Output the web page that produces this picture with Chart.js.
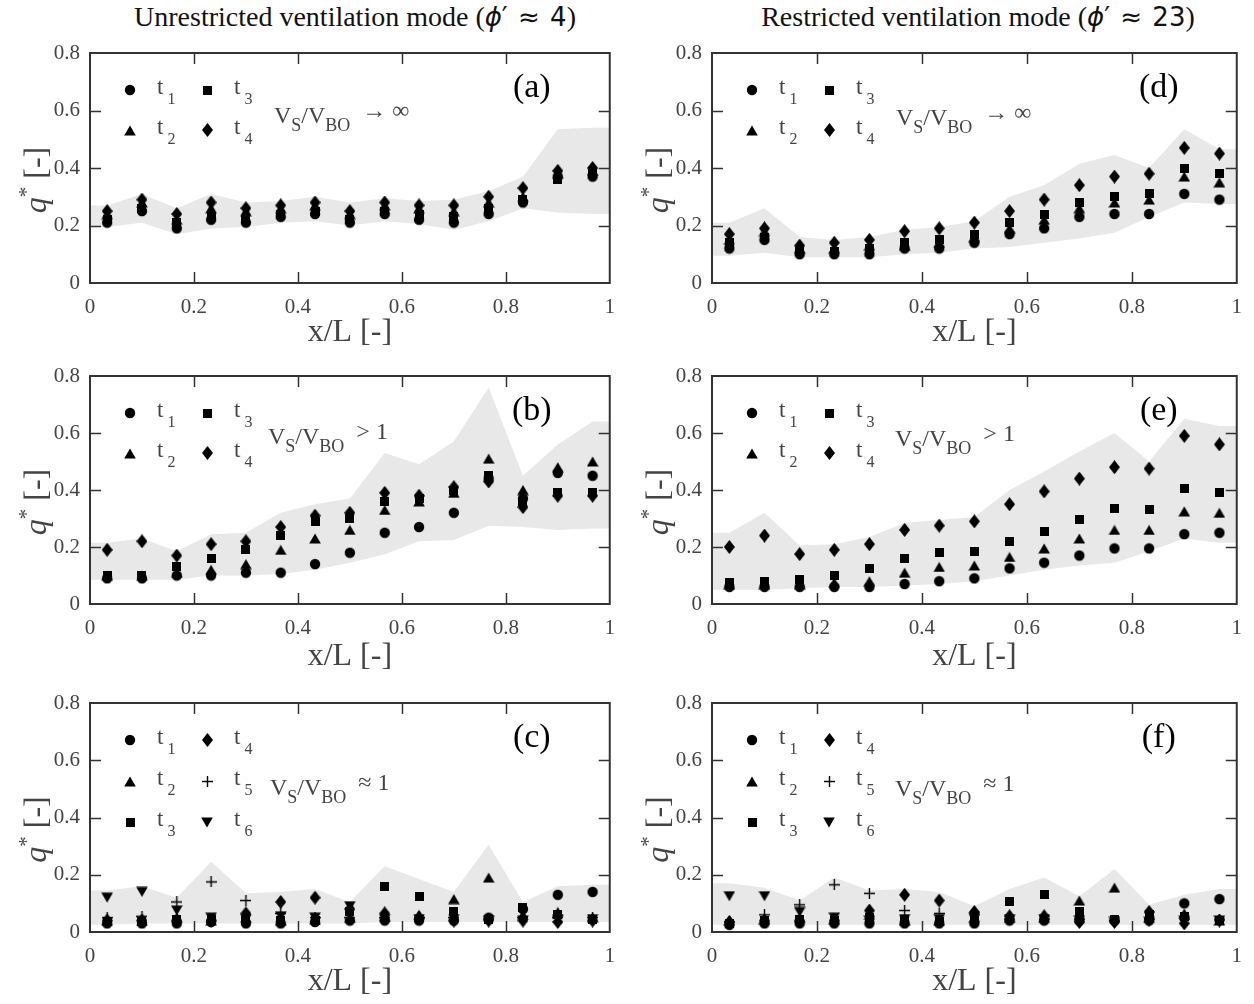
<!DOCTYPE html>
<html>
<head>
<meta charset="utf-8">
<script src="https://cdn.jsdelivr.net/npm/chart.js@4.4.0/dist/chart.umd.min.js"></script>
<style>
  body { margin: 0; background: #fff; width: 1254px; height: 1004px; position: relative; overflow: hidden; font-family: 'Liberation Serif', serif; }
  .hdr { position: absolute; top: 1px; font-size: 28px; line-height: 32px; color: #111; text-align: center; white-space: nowrap; }
  .hdr .s { font-family: 'DejaVu Sans', sans-serif; font-size: 26px; word-spacing: 2px; }
  canvas { position: absolute; display: block; }
</style>
</head>
<body>
<div class="hdr" style="left:0;width:710px">Unrestricted ventilation mode (<span class="s"><i>ϕ</i>′ ≈ 4</span>)</div>
<div class="hdr" style="left:702px;width:552px">Restricted ventilation mode (<span class="s"><i>ϕ</i>′ ≈ 23</span>)</div>

<canvas id="pa" width="627" height="320" style="left:0;top:30px"></canvas>
<canvas id="pd" width="627" height="320" style="left:627px;top:30px"></canvas>
<canvas id="pb" width="627" height="325" style="left:0;top:350px"></canvas>
<canvas id="pe" width="627" height="325" style="left:627px;top:350px"></canvas>
<canvas id="pc" width="627" height="329" style="left:0;top:675px"></canvas>
<canvas id="pf" width="627" height="329" style="left:627px;top:675px"></canvas>

<script>
// measurement positions x/L
const xPos = [0.033, 0.1, 0.167, 0.233, 0.3, 0.367, 0.433, 0.5, 0.567, 0.633, 0.7, 0.767, 0.833, 0.9, 0.967];
// band corners (edges + measurement positions)
const bandX = [0, 0.033, 0.1, 0.167, 0.233, 0.3, 0.367, 0.433, 0.5, 0.567, 0.633, 0.7, 0.767, 0.833, 0.9, 0.967, 1];

// (a) unrestricted, Vs/Vbo -> inf
const aT1 = [0.21, 0.25, 0.19, 0.22, 0.21, 0.23, 0.24, 0.21, 0.24, 0.22, 0.21, 0.24, 0.28, 0.37, 0.37];
const aT2 = [0.24, 0.28, 0.22, 0.26, 0.25, 0.26, 0.27, 0.24, 0.27, 0.26, 0.25, 0.28, 0.30, 0.38, 0.39];
const aT3 = [0.22, 0.26, 0.21, 0.23, 0.22, 0.24, 0.25, 0.22, 0.25, 0.24, 0.23, 0.26, 0.29, 0.36, 0.38];
const aT4 = [0.25, 0.29, 0.24, 0.28, 0.26, 0.27, 0.28, 0.25, 0.28, 0.27, 0.27, 0.30, 0.33, 0.39, 0.40];
const aHi = [0.27, 0.27, 0.31, 0.26, 0.31, 0.28, 0.285, 0.30, 0.28, 0.295, 0.285, 0.29, 0.32, 0.37, 0.535, 0.54, 0.54];
const aLo = [0.195, 0.195, 0.21, 0.17, 0.19, 0.195, 0.21, 0.215, 0.20, 0.215, 0.205, 0.185, 0.215, 0.26, 0.245, 0.24, 0.24];

// (b) unrestricted, Vs/Vbo > 1
const bT1 = [0.09, 0.09, 0.10, 0.10, 0.11, 0.11, 0.14, 0.18, 0.25, 0.27, 0.32, 0.44, 0.37, 0.46, 0.45];
const bT2 = [0.10, 0.10, 0.11, 0.12, 0.14, 0.19, 0.23, 0.26, 0.33, 0.36, 0.39, 0.51, 0.40, 0.48, 0.50];
const bT3 = [0.10, 0.10, 0.13, 0.16, 0.19, 0.24, 0.29, 0.30, 0.36, 0.37, 0.40, 0.45, 0.36, 0.39, 0.39];
const bT4 = [0.19, 0.22, 0.17, 0.21, 0.22, 0.27, 0.31, 0.32, 0.39, 0.38, 0.41, 0.43, 0.34, 0.38, 0.38];
const bHi = [0.215, 0.215, 0.23, 0.185, 0.245, 0.25, 0.32, 0.35, 0.37, 0.53, 0.49, 0.57, 0.76, 0.45, 0.56, 0.64, 0.64];
const bLo = [0.085, 0.085, 0.085, 0.085, 0.10, 0.10, 0.105, 0.12, 0.145, 0.175, 0.22, 0.225, 0.275, 0.27, 0.26, 0.265, 0.265];

// (c) unrestricted, Vs/Vbo ~ 1
const cT1 = [0.03, 0.03, 0.03, 0.035, 0.03, 0.03, 0.035, 0.04, 0.04, 0.04, 0.04, 0.05, 0.08, 0.13, 0.14];
const cT2 = [0.04, 0.04, 0.05, 0.04, 0.05, 0.04, 0.045, 0.05, 0.055, 0.06, 0.115, 0.19, 0.06, 0.07, 0.05];
const cT3 = [0.035, 0.035, 0.045, 0.045, 0.04, 0.04, 0.04, 0.07, 0.16, 0.125, 0.07, 0.045, 0.085, 0.06, 0.045];
const cT4 = [0.04, 0.04, 0.04, 0.04, 0.065, 0.105, 0.12, 0.08, 0.065, 0.05, 0.04, 0.04, 0.04, 0.035, 0.04];
const cT5 = [0.05, 0.055, 0.105, 0.175, 0.11, 0.065, 0.05, 0.05, 0.05, 0.05, 0.05, 0.045, 0.05, 0.05, 0.05];
const cT6 = [0.12, 0.14, 0.075, 0.05, 0.045, 0.055, 0.05, 0.09, 0.045, 0.045, 0.045, 0.04, 0.04, 0.045, 0.045];
const cHi = [0.145, 0.145, 0.16, 0.12, 0.245, 0.135, 0.14, 0.15, 0.105, 0.23, 0.185, 0.14, 0.305, 0.105, 0.16, 0.165, 0.165];
const cLo = [0.025, 0.025, 0.03, 0.03, 0.03, 0.03, 0.03, 0.03, 0.03, 0.035, 0.035, 0.035, 0.035, 0.035, 0.035, 0.035, 0.035];

// (d) restricted, Vs/Vbo -> inf
const dT1 = [0.12, 0.15, 0.10, 0.10, 0.10, 0.12, 0.12, 0.14, 0.17, 0.19, 0.23, 0.24, 0.24, 0.31, 0.29];
const dT2 = [0.15, 0.18, 0.12, 0.12, 0.13, 0.13, 0.14, 0.16, 0.19, 0.22, 0.26, 0.28, 0.29, 0.37, 0.35];
const dT3 = [0.14, 0.16, 0.11, 0.11, 0.12, 0.14, 0.15, 0.17, 0.21, 0.24, 0.28, 0.30, 0.31, 0.40, 0.38];
const dT4 = [0.17, 0.19, 0.13, 0.14, 0.15, 0.18, 0.19, 0.21, 0.25, 0.29, 0.34, 0.37, 0.38, 0.47, 0.45];
const dHi = [0.21, 0.21, 0.26, 0.16, 0.15, 0.16, 0.185, 0.195, 0.215, 0.30, 0.34, 0.415, 0.445, 0.40, 0.535, 0.465, 0.465];
const dLo = [0.095, 0.095, 0.105, 0.09, 0.09, 0.09, 0.10, 0.105, 0.12, 0.125, 0.14, 0.155, 0.175, 0.23, 0.28, 0.275, 0.275];

// (e) restricted, Vs/Vbo > 1
const eT1 = [0.06, 0.06, 0.06, 0.06, 0.06, 0.07, 0.08, 0.09, 0.125, 0.145, 0.17, 0.195, 0.195, 0.245, 0.25];
const eT2 = [0.07, 0.07, 0.07, 0.075, 0.08, 0.11, 0.13, 0.135, 0.165, 0.195, 0.23, 0.26, 0.26, 0.325, 0.32];
const eT3 = [0.075, 0.08, 0.085, 0.10, 0.125, 0.16, 0.18, 0.185, 0.22, 0.255, 0.295, 0.335, 0.33, 0.405, 0.39];
const eT4 = [0.20, 0.24, 0.175, 0.19, 0.21, 0.26, 0.275, 0.29, 0.35, 0.395, 0.44, 0.48, 0.475, 0.59, 0.56];
const eHi = [0.25, 0.25, 0.32, 0.205, 0.21, 0.235, 0.285, 0.295, 0.305, 0.40, 0.465, 0.535, 0.60, 0.50, 0.65, 0.625, 0.625];
const eLo = [0.05, 0.05, 0.05, 0.055, 0.06, 0.06, 0.065, 0.07, 0.08, 0.10, 0.12, 0.135, 0.145, 0.185, 0.23, 0.215, 0.215];

// (f) restricted, Vs/Vbo ~ 1
const fT1 = [0.025, 0.03, 0.03, 0.03, 0.03, 0.03, 0.03, 0.03, 0.04, 0.04, 0.04, 0.04, 0.04, 0.10, 0.115];
const fT2 = [0.04, 0.045, 0.05, 0.045, 0.06, 0.04, 0.04, 0.05, 0.05, 0.05, 0.11, 0.155, 0.05, 0.065, 0.04];
const fT3 = [0.03, 0.04, 0.045, 0.04, 0.05, 0.04, 0.035, 0.04, 0.105, 0.13, 0.07, 0.045, 0.06, 0.055, 0.04];
const fT4 = [0.035, 0.04, 0.04, 0.04, 0.075, 0.13, 0.11, 0.07, 0.055, 0.055, 0.035, 0.035, 0.07, 0.03, 0.04];
const fT5 = [0.035, 0.06, 0.095, 0.165, 0.135, 0.075, 0.065, 0.06, 0.045, 0.045, 0.045, 0.04, 0.045, 0.045, 0.045];
const fT6 = [0.125, 0.125, 0.07, 0.05, 0.04, 0.045, 0.045, 0.05, 0.045, 0.045, 0.04, 0.035, 0.035, 0.04, 0.04];
const fHi = [0.17, 0.17, 0.155, 0.11, 0.19, 0.145, 0.15, 0.14, 0.09, 0.15, 0.19, 0.125, 0.22, 0.095, 0.13, 0.15, 0.15];
const fLo = [0.025, 0.025, 0.025, 0.025, 0.025, 0.025, 0.025, 0.025, 0.025, 0.025, 0.025, 0.025, 0.025, 0.025, 0.025, 0.025, 0.025];

const TXT = '#444';
const SERIF = "'Liberation Serif', 'Times New Roman', serif";

// marker glyphs, used both for points and for the in-plot legends
function makeMarker(w, h, draw) {
  const c = document.createElement('canvas');
  c.width = w; c.height = h;
  const g = c.getContext('2d');
  g.fillStyle = '#000'; g.strokeStyle = '#000';
  draw(g, w, h);
  return c;
}
const markers = {
  circle: makeMarker(12, 12, g => { g.beginPath(); g.arc(6, 6, 5.2, 0, Math.PI * 2); g.fill(); }),
  square: makeMarker(9, 9, g => g.fillRect(0, 0, 9, 9)),
  triUp: makeMarker(12, 11, g => { g.beginPath(); g.moveTo(6, 0.5); g.lineTo(11.8, 10.5); g.lineTo(0.2, 10.5); g.closePath(); g.fill(); }),
  triDown: makeMarker(12, 11, g => { g.beginPath(); g.moveTo(0.2, 0.5); g.lineTo(11.8, 0.5); g.lineTo(6, 10.5); g.closePath(); g.fill(); }),
  diamond: makeMarker(11, 14, g => { g.beginPath(); g.moveTo(5.5, 0); g.lineTo(11, 7); g.lineTo(5.5, 14); g.lineTo(0, 7); g.closePath(); g.fill(); }),
  plus: makeMarker(11, 11, g => { g.lineWidth = 1.4; g.beginPath(); g.moveTo(5.5, 0); g.lineTo(5.5, 11); g.moveTo(0, 5.5); g.lineTo(11, 5.5); g.stroke(); })
};

const legend4 = [['circle', '1', 0, 0], ['square', '3', 1, 0], ['triUp', '2', 0, 1], ['diamond', '4', 1, 1]];
const legend6 = [['circle', '1', 0, 0], ['diamond', '4', 1, 0], ['triUp', '2', 0, 1], ['plus', '5', 1, 1], ['square', '3', 0, 2], ['triDown', '6', 1, 2]];

function drawRich(ctx, x, y, parts) {
  parts.forEach(([t, size, dy, style]) => {
    ctx.font = (style || '') + ' ' + size + 'px ' + SERIF;
    ctx.fillText(t, x, y + dy);
    x += ctx.measureText(t).width;
  });
  return x;
}

// frame, inner ticks, legend, annotations
const panelDecor = {
  id: 'panelDecor',
  afterDraw(chart, args, o) {
    const { ctx, chartArea: a, scales: { x, y } } = chart;
    ctx.save();
    ctx.strokeStyle = '#333';
    ctx.lineWidth = 1.5;
    ctx.beginPath();
    x.ticks.forEach(t => {
      if (t.value <= 0 || t.value >= 1) return;
      const px = Math.round(x.getPixelForValue(t.value)) + 0.5;
      ctx.moveTo(px, a.bottom); ctx.lineTo(px, a.bottom - 11);
      ctx.moveTo(px, a.top); ctx.lineTo(px, a.top + 11);
    });
    y.ticks.forEach(t => {
      if (t.value <= 0 || t.value >= 0.8) return;
      const py = Math.round(y.getPixelForValue(t.value)) + 0.5;
      ctx.moveTo(a.left, py); ctx.lineTo(a.left + 11, py);
      ctx.moveTo(a.right, py); ctx.lineTo(a.right - 11, py);
    });
    ctx.stroke();
    ctx.lineWidth = 2;
    ctx.strokeRect(a.left, a.top, a.right - a.left, a.bottom - a.top);

    // legend
    ctx.fillStyle = TXT;
    ctx.textBaseline = 'alphabetic';
    ctx.textAlign = 'left';
    o.legend.forEach(([m, sub, col, row]) => {
      const mx = a.left + 40 + col * 77;
      const my = a.top + 37 + row * o.rowGap;
      const img = markers[m];
      ctx.drawImage(img, Math.round(mx - img.width / 2), Math.round(my - img.height / 2));
      drawRich(ctx, mx + 27, my + 4, [['t', 23, 0], [' ' + sub, 16, 10]]);
    });

    // velocity ratio
    drawRich(ctx, a.left + o.vx, a.top + o.vy, [
      ['V', 24, 0], ['S', 18, 8], ['/', 24, 0], ['V', 24, 0], ['BO', 18, 8], ['  ' + o.rel, 24, -5]
    ]);

    // panel letter
    ctx.fillStyle = '#000';
    ctx.textAlign = 'center';
    ctx.textBaseline = 'middle';
    ctx.font = '34px ' + SERIF;
    ctx.fillText(o.letter, a.right - 78, a.top + 35);

    // y title: q* [-]
    ctx.fillStyle = TXT;
    ctx.translate(a.left - 52, (a.top + a.bottom) / 2 + 12);
    ctx.rotate(-Math.PI / 2);
    ctx.textAlign = 'left';
    ctx.textBaseline = 'middle';
    const parts = [['q', 32, 0, 'italic'], ['*', 21, -11], [' [-]', 32, 0]];
    let w = 0;
    parts.forEach(([t, s, d, st]) => { ctx.font = (st || '') + ' ' + s + 'px ' + SERIF; w += ctx.measureText(t).width; });
    drawRich(ctx, -w / 2, 0, parts);
    ctx.restore();
  }
};

const fmt = v => String(Math.round(v * 10) / 10);

function buildPanel(p) {
  const datasets = [
    { type: 'line', data: bandX.map((x, i) => ({ x, y: p.lo[i] })), borderColor: 'rgba(0,0,0,0)', borderWidth: 0, pointRadius: 0, fill: false, order: 10 },
    { type: 'line', data: bandX.map((x, i) => ({ x, y: p.hi[i] })), borderColor: 'rgba(0,0,0,0)', borderWidth: 0, pointRadius: 0, fill: '-1', backgroundColor: '#e8e8e8', order: 10 }
  ];
  p.series.forEach(([vals, m]) => {
    datasets.push({
      data: xPos.map((x, i) => ({ x, y: vals[i] })),
      pointStyle: markers[m],
      pointRadius: 5,
      order: 1
    });
  });
  const tickFont = { family: SERIF, size: 21 };
  return new Chart(document.getElementById(p.id), {
    type: 'scatter',
    data: { datasets },
    options: {
      responsive: false,
      animation: false,
      events: [],
      layout: { padding: { top: p.padT, right: p.padR, left: 0, bottom: 0 } },
      plugins: {
        legend: { display: false },
        tooltip: { enabled: false },
        panelDecor: { letter: p.letter, rel: p.rel, legend: p.legend, rowGap: p.rowGap, vx: p.vx, vy: p.vy }
      },
      scales: {
        x: {
          type: 'linear', min: 0, max: 1,
          afterFit: s => { s.height = p.xh; },
          grid: { display: false, drawTicks: false },
          border: { display: false },
          ticks: { stepSize: 0.2, padding: 12, color: TXT, font: tickFont, maxRotation: 0, callback: fmt },
          title: { display: true, text: 'x/L [-]', color: TXT, font: { family: SERIF, size: 32, lineHeight: 1 }, padding: { top: 0, bottom: p.tb } }
        },
        y: {
          type: 'linear', min: 0, max: 0.8,
          afterFit: s => { s.width = p.yw; },
          grid: { display: false, drawTicks: false },
          border: { display: false },
          ticks: { stepSize: 0.2, padding: 10, color: TXT, font: tickFont, callback: fmt }
        }
      }
    },
    plugins: [panelDecor]
  });
}

const s4 = (t1, t2, t3, t4) => [[t1, 'circle'], [t2, 'triUp'], [t3, 'square'], [t4, 'diamond']];
const s6 = (t1, t2, t3, t4, t5, t6) => [[t1, 'circle'], [t2, 'triUp'], [t3, 'square'], [t4, 'diamond'], [t5, 'plus'], [t6, 'triDown']];

const panels = [
  { id: 'pa', letter: '(a)', rel: '→ ∞', series: s4(aT1, aT2, aT3, aT4), hi: aHi, lo: aLo, legend: legend4, rowGap: 40, vx: 184, vy: 70, yw: 90, padR: 8, padT: 23, xh: 67, tb: 1 },
  { id: 'pd', letter: '(d)', rel: '→ ∞', series: s4(dT1, dT2, dT3, dT4), hi: dHi, lo: dLo, legend: legend4, rowGap: 40, vx: 184, vy: 72, yw: 85, padR: 14, padT: 23, xh: 67, tb: 1 },
  { id: 'pb', letter: '(b)', rel: '> 1', series: s4(bT1, bT2, bT3, bT4), hi: bHi, lo: bLo, legend: legend4, rowGap: 40, vx: 178, vy: 68, yw: 90, padR: 8, padT: 26, xh: 71, tb: 2 },
  { id: 'pe', letter: '(e)', rel: '> 1', series: s4(eT1, eT2, eT3, eT4), hi: eHi, lo: eLo, legend: legend4, rowGap: 40, vx: 183, vy: 70, yw: 85, padR: 14, padT: 26, xh: 71, tb: 2 },
  { id: 'pc', letter: '(c)', rel: '≈ 1', series: s6(cT1, cT2, cT3, cT4, cT5, cT6), hi: cHi, lo: cLo, legend: legend6, rowGap: 41, vx: 180, vy: 92, yw: 90, padR: 8, padT: 28, xh: 72, tb: 6 },
  { id: 'pf', letter: '(f)', rel: '≈ 1', series: s6(fT1, fT2, fT3, fT4, fT5, fT6), hi: fHi, lo: fLo, legend: legend6, rowGap: 41, vx: 183, vy: 93, yw: 85, padR: 14, padT: 28, xh: 72, tb: 6 }
];

panels.forEach(buildPanel);
</script>
</body>
</html>
